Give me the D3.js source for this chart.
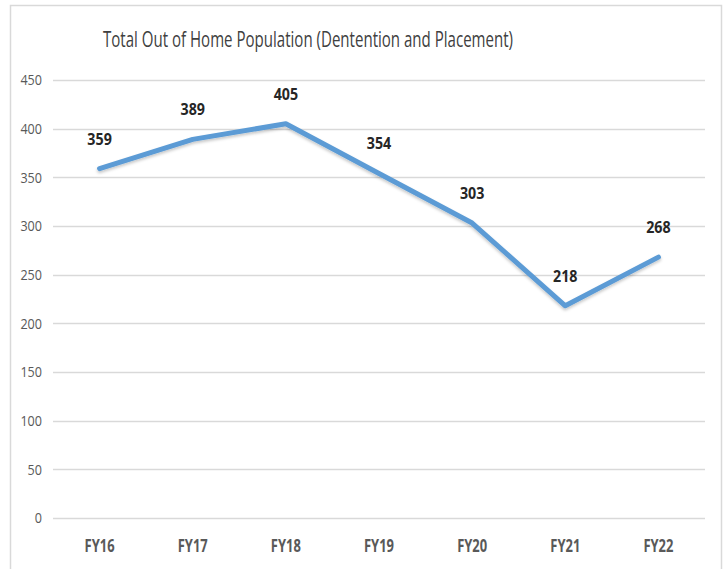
<!DOCTYPE html>
<html>
<head>
<meta charset="utf-8">
<script src="https://cdn.jsdelivr.net/npm/d3@7"></script>
<style>
  html, body { margin: 0; padding: 0; background: #fff; }
  svg { display: block; }
</style>
</head>
<body>
<script>
const categories = ["FY16", "FY17", "FY18", "FY19", "FY20", "FY21", "FY22"];
const values = [359, 389, 405, 354, 303, 218, 268];
const yTicks = [0, 50, 100, 150, 200, 250, 300, 350, 400, 450];
const title = "Total Out of Home Population (Dentention and Placement)";

const W = 727, H = 569;
const font = "'Open Sans', 'Noto Sans', sans-serif";

const svg = d3.select("body").append("svg").attr("width", W).attr("height", H);

const defs = svg.append("defs");
const f = defs.append("filter").attr("id", "sh").attr("x", "-10%").attr("y", "-10%").attr("width", "120%").attr("height", "130%");
f.append("feDropShadow").attr("dx", 0).attr("dy", 2).attr("stdDeviation", 1.5).attr("flood-color", "#000").attr("flood-opacity", 0.22);

// outer frame
svg.append("rect").attr("x", 10.5).attr("y", 5.5).attr("width", 711).attr("height", 580)
  .attr("fill", "#fff").attr("stroke", "#d9d9d9").attr("stroke-width", 1.5);

const x = d3.scaleBand().domain(categories).range([53, 705]);
const y = d3.scaleLinear().domain([0, 450]).range([518, 80]);

// gridlines
svg.append("g").selectAll("line").data(yTicks).join("line")
  .attr("x1", 53).attr("x2", 705)
  .attr("y1", d => Math.round(y(d)) + 0.5).attr("y2", d => Math.round(y(d)) + 0.5)
  .attr("stroke", "#d9d9d9").attr("stroke-width", 1.5);

// y axis labels
const yAxis = d3.axisLeft(y).tickValues(yTicks).tickSize(0).tickPadding(0);
const gy = svg.append("g").attr("transform", "translate(42,0)").call(yAxis);
gy.select(".domain").remove();
gy.selectAll("text").attr("font-family", font).attr("font-size", 15).attr("fill", "#595959")
  .attr("x", 0).attr("transform", "scale(0.84,1)");

// x axis labels
const xAxis = d3.axisBottom(x).tickSize(0).tickPadding(0);
const gx = svg.append("g").attr("transform", "translate(0,552)").call(xAxis);
gx.select(".domain").remove();
gx.selectAll("text").attr("font-family", font).attr("font-size", 18).attr("font-weight", "bold").attr("fill", "#595959")
  .attr("y", 0).attr("dy", 0).attr("transform", "scale(0.72,1)");

// title
svg.append("text").attr("x", 103).attr("y", 47).text(title)
  .attr("font-family", font).attr("font-size", 21).attr("fill", "#404040")
  .attr("textLength", 410).attr("lengthAdjust", "spacingAndGlyphs");

// line
const cx = (i) => x(categories[i]) + x.bandwidth() / 2;
const line = d3.line().x((d, i) => cx(i)).y(d => y(d));
svg.append("path").datum(values).attr("d", line)
  .attr("fill", "none").attr("stroke", "#5b9bd5").attr("stroke-width", 5)
  .attr("stroke-linejoin", "round").attr("stroke-linecap", "round")
  .attr("filter", "url(#sh)");

// data labels
svg.append("g").selectAll("text").data(values).join("text")
  .attr("transform", (d, i) => `translate(${cx(i)},${y(d) - 24}) scale(0.92,1)`)
  .attr("text-anchor", "middle")
  .attr("font-family", font).attr("font-size", 15.5).attr("font-weight", "bold").attr("fill", "#262626")
  .text(d => d);
</script>
</body>
</html>
